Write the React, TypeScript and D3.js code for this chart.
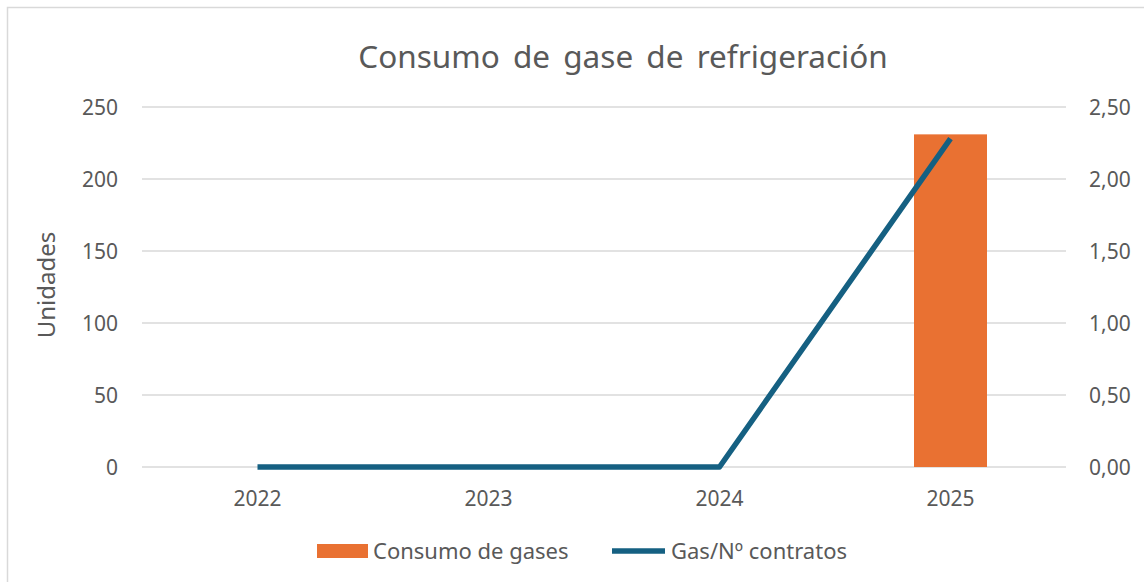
import React from "react";
import * as d3 from "d3";

const categories = ["2022", "2023", "2024", "2025"];
const consumo = [0, 0, 0, 231];
const ratio = [0, 0, 0, 2.28];
const leftTicks = [0, 50, 100, 150, 200, 250];
const rightTicks = [0, 0.5, 1, 1.5, 2, 2.5];

const W = 1144, H = 582;
const FONT = "'Noto Sans', 'Open Sans', sans-serif";
const TXT = "#595959";
const ORANGE = "#E97132";
const BLUE = "#156082";

export default function App() {
  const x = d3.scaleBand<string>().domain(categories).range([142, 1066]).paddingInner(0).paddingOuter(0);
  const yL = d3.scaleLinear().domain([0, 250]).range([467, 107]);
  const yR = d3.scaleLinear().domain([0, 2.5]).range([467, 107]);
  const barW = x.bandwidth() * 0.316;
  const fmt = (v: number) => v.toFixed(2).replace(".", ",");
  const line = d3.line<number>()
    .x((_, i) => (x(categories[i]) as number) + x.bandwidth() / 2)
    .y((d) => yR(d));

  return (
    <svg width={W} height={H} style={{ position: "absolute", left: 0, top: 0 }} fontFamily={FONT}>
      <rect x={0} y={0} width={W} height={H} fill="#fff" />
      <rect x={7.5} y={7.5} width={W + 20} height={H + 20} fill="none" stroke="#d9d9d9" strokeWidth={1.5} />
      <text x={623} y={68} textAnchor="middle" fontSize={31.5} fill={TXT} wordSpacing={5}>
        Consumo de gase de refrigeración
      </text>
      {leftTicks.map((t) => (
        <line key={"g" + t} x1={142} x2={1066} y1={yL(t)} y2={yL(t)} stroke="#d9d9d9" strokeWidth={1.5} />
      ))}
      {leftTicks.map((t) => (
        <text key={"l" + t} x={118} y={yL(t) + 7.5} textAnchor="end" fontSize={21} fill={TXT}>{t}</text>
      ))}
      {rightTicks.map((t) => (
        <text key={"r" + t} x={1089} y={yR(t) + 7.5} textAnchor="start" fontSize={21} fill={TXT}>{fmt(t)}</text>
      ))}
      {categories.map((c) => (
        <text key={"c" + c} x={(x(c) as number) + x.bandwidth() / 2} y={506} textAnchor="middle" fontSize={21} fill={TXT}>{c}</text>
      ))}
      <text transform={`translate(55,285) rotate(-90)`} textAnchor="middle" fontSize={24} fill={TXT}>Unidades</text>
      {consumo.map((v, i) => v > 0 ? (
        <rect key={"b" + i} x={(x(categories[i]) as number) + (x.bandwidth() - barW) / 2} y={yL(v)} width={barW} height={yL(0) - yL(v)} fill={ORANGE} />
      ) : null)}
      <path d={line(ratio) || ""} fill="none" stroke={BLUE} strokeWidth={5.5} strokeLinejoin="round" />
      <rect x={317} y={544} width={51} height={14} fill={ORANGE} />
      <text x={373} y={558.5} fontSize={22} fill={TXT}>Consumo de gases</text>
      <line x1={612} x2={665} y1={551} y2={551} stroke={BLUE} strokeWidth={5.5} />
      <text x={671} y={558.5} fontSize={22} fill={TXT}>Gas/Nº contratos</text>
    </svg>
  );
}
